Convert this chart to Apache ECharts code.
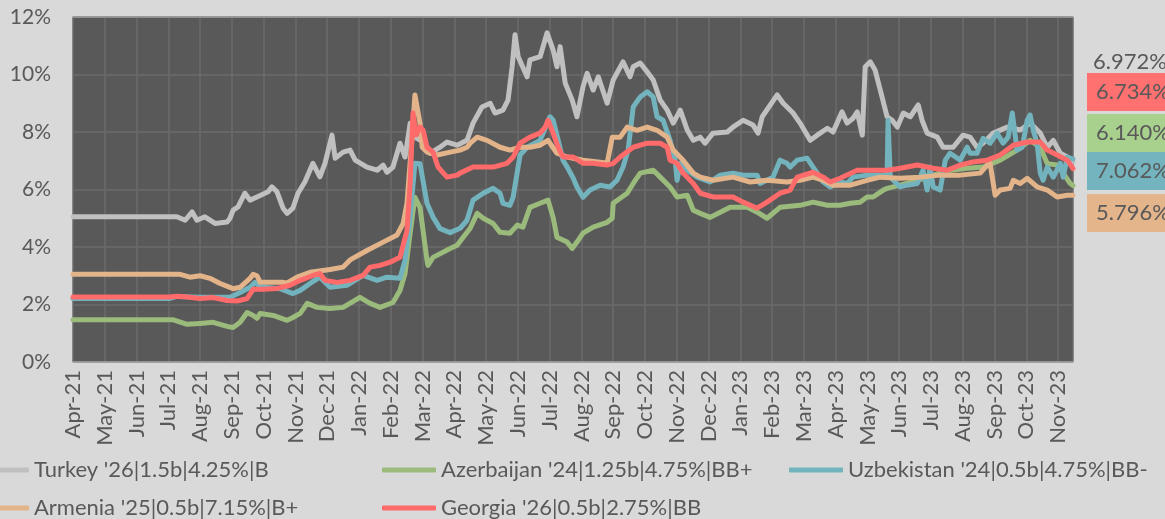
<!DOCTYPE html>
<html>
<head>
<meta charset="utf-8">
<title>Eurobond yields</title>
<script src="https://cdn.jsdelivr.net/npm/echarts@6/dist/echarts.min.js"></script>
<style>
  html, body { margin: 0; padding: 0; background: #d9d9d9; }
  #chart { width: 1165px; height: 519px; }
</style>
</head>
<body>
<div id="chart"></div>
<script>
/*** data ***/
// x = months since Apr-21 (0 = Apr-21, 31 = Nov-23), y = yield %
var months = ['Apr-21','May-21','Jun-21','Jul-21','Aug-21','Sep-21','Oct-21','Nov-21','Dec-21','Jan-22','Feb-22','Mar-22',
  'Apr-22','May-22','Jun-22','Jul-22','Aug-22','Sep-22','Oct-22','Nov-22','Dec-22','Jan-23','Feb-23','Mar-23',
  'Apr-23','May-23','Jun-23','Jul-23','Aug-23','Sep-23','Oct-23','Nov-23'];
var xEnd = 31.47;
var yTicks = [0, 2, 4, 6, 8, 10, 12];

var names = ["Turkey '26|1.5b|4.25%|B", "Azerbaijan '24|1.25b|4.75%|BB+", "Uzbekistan '24|0.5b|4.75%|BB-",
  "Armenia '25|0.5b|7.15%|B+", "Georgia '26|0.5b|2.75%|BB"];
var colors = ['#c0c0c0', '#9bbb7c', '#72b3bd', '#e3b38a', '#ff6b6b'];

var turkey = [[0,5.05],[3.27,5.05],[3.53,4.93],[3.75,5.22],[3.90,4.93],[4.15,5.05],[4.47,4.82],[4.85,4.87],[4.94,5.0],
  [5.04,5.28],[5.19,5.39],[5.41,5.87],[5.57,5.63],[5.79,5.74],[6.14,5.92],[6.26,6.09],[6.42,5.92],[6.61,5.35],[6.74,5.17],
  [6.92,5.35],[7.08,5.87],[7.30,6.27],[7.55,6.91],[7.77,6.44],[7.93,6.91],[8.15,7.89],[8.25,7.09],[8.50,7.3],[8.72,7.37],
  [8.88,7.02],[9.25,6.78],[9.57,6.67],[9.76,6.85],[9.88,6.6],[10.07,6.78],[10.29,7.61],[10.45,7.13],[10.61,8.3],[10.80,7.8],
  [11.08,7.61],[11.24,7.26],[11.55,7.47],[11.77,7.65],[12.09,7.54],[12.40,7.71],[12.59,8.31],[12.87,8.87],[13.13,9.0],
  [13.28,8.66],[13.53,8.76],[13.69,9.11],[13.82,10.27],[13.91,11.38],[14.01,10.62],[14.29,9.92],[14.38,10.51],[14.70,10.62],
  [14.92,11.45],[15.11,10.85],[15.23,10.27],[15.33,10.97],[15.49,9.7],[15.71,9.11],[15.86,8.53],[16.05,9.57],[16.18,10.04],
  [16.37,9.46],[16.53,9.92],[16.81,9.0],[17.00,9.81],[17.31,10.44],[17.53,9.92],[17.63,10.27],[17.85,10.4],[18.07,10.09],
  [18.26,9.81],[18.48,9.11],[18.70,8.76],[18.89,8.31],[19.11,8.76],[19.33,8.07],[19.52,7.71],[19.74,7.82],[19.89,7.61],
  [20.14,7.96],[20.59,8.0],[20.77,8.17],[21.09,8.41],[21.40,8.24],[21.56,7.96],[21.69,8.53],[22.16,9.29],[22.35,9.0],
  [22.66,8.66],[22.88,8.31],[23.20,7.71],[23.42,7.89],[23.74,8.13],[23.92,8.0],[24.20,8.7],[24.36,8.31],[24.55,8.48],
  [24.68,8.7],[24.84,7.89],[24.93,10.27],[25.09,10.44],[25.24,10.16],[25.46,9.22],[25.62,8.53],[25.78,8.41],[25.94,8.17],
  [26.13,8.66],[26.35,8.53],[26.60,8.94],[26.72,8.41],[26.88,7.96],[27.20,7.82],[27.38,7.47],[27.70,7.47],[28.01,7.89],
  [28.23,7.82],[28.45,7.47],[28.64,7.61],[28.96,7.96],[29.40,8.17],[29.81,8.07],[30.12,8.31],[30.44,7.96],[30.66,7.47],
  [30.85,7.71],[31.07,7.26],[31.29,7.13],[31.47,6.97]];

var azerbaijan = [[0,1.47],[3.14,1.47],[3.59,1.31],[4.0,1.34],[4.41,1.38],[4.85,1.24],[5.04,1.2],[5.26,1.38],[5.48,1.72],
  [5.67,1.62],[5.79,1.52],[5.89,1.69],[6.30,1.62],[6.74,1.45],[6.92,1.55],[7.15,1.69],[7.37,2.04],[7.68,1.9],[8.09,1.86],
  [8.50,1.9],[9.03,2.25],[9.35,2.04],[9.66,1.9],[10.07,2.07],[10.29,2.49],[10.45,3.08],[10.61,4.48],[10.76,5.73],
  [10.92,5.38],[11.14,3.54],[11.17,3.36],[11.33,3.64],[11.87,3.95],[12.09,4.06],[12.28,4.34],[12.50,4.65],[12.72,5.17],
  [12.91,5.0],[13.22,4.82],[13.44,4.51],[13.75,4.48],[13.98,4.76],[14.16,4.69],[14.38,5.38],[14.70,5.52],[14.95,5.63],
  [15.11,5.03],[15.23,4.34],[15.55,4.17],[15.71,3.95],[15.86,4.17],[16.05,4.48],[16.37,4.69],[16.81,4.86],[16.97,5.0],
  [17.00,5.52],[17.44,5.87],[17.63,6.21],[17.85,6.57],[18.26,6.67],[18.48,6.43],[18.79,6.09],[19.01,5.74],[19.33,5.8],
  [19.52,5.28],[19.74,5.17],[20.05,5.03],[20.37,5.21],[20.68,5.38],[21.22,5.38],[21.53,5.21],[21.84,5.0],[22.25,5.38],
  [22.88,5.45],[23.29,5.56],[23.74,5.45],[24.14,5.45],[24.46,5.52],[24.77,5.56],[24.99,5.74],[25.18,5.74],[25.50,5.98],
  [25.62,6.04],[26.03,6.15],[26.57,6.32],[27.07,6.5],[27.60,6.67],[28.14,6.74],[28.64,6.78],[29.18,7.02],[29.71,7.37],
  [30.12,7.71],[30.44,7.47],[30.66,6.9],[30.97,6.85],[31.16,6.57],[31.38,6.21],[31.47,6.14]];

var uzbekistan = [[0,2.21],[3.05,2.21],[3.27,2.28],[4.0,2.25],[4.94,2.25],[5.26,2.42],[5.57,2.6],[5.73,2.77],[5.89,2.62],
  [6.52,2.55],[6.92,2.38],[7.15,2.49],[7.55,2.8],[7.77,2.95],[8.09,2.6],[8.62,2.67],[9.13,3.01],[9.57,2.84],[9.88,2.95],
  [10.29,2.91],[10.45,3.54],[10.61,5.04],[10.76,6.91],[10.92,6.9],[11.14,5.52],[11.33,5.04],[11.55,4.64],[11.87,4.5],
  [12.18,4.65],[12.40,4.93],[12.59,5.63],[12.91,5.87],[13.22,6.04],[13.44,5.87],[13.53,5.52],[13.75,5.45],[13.85,5.73],
  [14.07,7.2],[14.29,7.47],[14.70,7.71],[15.01,8.53],[15.11,8.41],[15.27,7.71],[15.42,7.02],[15.55,6.78],[15.74,6.4],
  [15.86,6.09],[16.05,5.73],[16.27,5.98],[16.59,6.15],[16.90,6.09],[17.12,6.32],[17.31,6.78],[17.47,7.37],[17.63,8.87],
  [17.85,9.22],[18.07,9.4],[18.26,9.22],[18.38,8.53],[18.57,8.41],[18.79,7.71],[18.95,7.02],[19.01,6.32],[19.11,6.91],
  [19.33,6.67],[19.64,6.43],[20.05,6.26],[20.37,6.5],[20.77,6.57],[21.09,6.5],[21.53,6.5],[21.62,6.21],[22.03,6.43],
  [22.25,7.02],[22.47,6.91],[22.57,6.78],[22.79,7.02],[23.10,7.09],[23.29,6.78],[23.61,6.26],[23.83,6.09],[24.14,6.26],
  [24.36,6.21],[24.55,6.43],[24.99,6.5],[25.62,6.5],[25.65,8.41],[25.72,6.43],[26.03,6.09],[26.25,6.15],[26.57,6.21],
  [26.75,6.67],[26.88,5.98],[26.97,6.78],[27.07,6.09],[27.29,5.98],[27.45,7.02],[27.60,7.26],[27.92,7.02],[28.14,7.47],
  [28.23,7.26],[28.45,7.26],[28.64,7.78],[28.86,7.61],[29.08,7.96],[29.27,7.61],[29.43,7.82],[29.56,8.66],[29.71,7.37],
  [29.87,7.47],[30.03,8.41],[30.12,8.59],[30.22,8.06],[30.34,7.61],[30.44,6.57],[30.53,6.32],[30.66,6.78],[30.85,6.43],
  [31.07,6.91],[31.16,6.43],[31.29,7.13],[31.47,7.06]];

var armenia = [[0,3.05],[3.37,3.05],[3.68,2.95],[4.0,3.0],[4.31,2.91],[4.63,2.73],[5.04,2.55],[5.26,2.6],[5.57,2.91],
  [5.67,3.05],[5.79,3.0],[5.89,2.77],[6.61,2.77],[6.74,2.75],[7.05,2.95],[7.46,3.12],[8.09,3.22],[8.50,3.3],[8.72,3.55],
  [9.25,3.88],[9.76,4.17],[10.20,4.42],[10.39,4.82],[10.51,5.52],[10.67,7.8],[10.76,9.29],[10.92,8.31],[10.99,7.47],
  [11.14,7.3],[11.46,7.2],[11.87,7.3],[12.18,7.37],[12.40,7.47],[12.50,7.61],[12.72,7.82],[13.03,7.71],[13.44,7.47],
  [13.75,7.37],[14.07,7.47],[14.38,7.47],[14.70,7.54],[14.95,7.71],[15.23,7.26],[15.55,7.13],[16.05,7.02],[16.59,6.95],
  [16.81,6.91],[16.97,7.82],[17.22,7.82],[17.44,8.17],[17.75,8.06],[18.07,8.17],[18.38,8.06],[18.70,7.82],[18.89,7.37],
  [19.20,7.02],[19.52,6.57],[19.74,6.43],[20.14,6.32],[20.77,6.43],[21.31,6.26],[21.84,6.32],[22.47,6.26],[22.88,6.32],
  [23.29,6.43],[23.61,6.32],[23.92,6.15],[24.46,6.15],[24.99,6.32],[25.40,6.43],[26.03,6.39],[26.66,6.43],[27.29,6.5],
  [27.92,6.5],[28.55,6.57],[28.77,6.85],[28.86,6.91],[29.02,5.8],[29.18,5.98],[29.49,6.04],[29.59,6.32],[29.81,6.21],
  [30.03,6.39],[30.34,6.09],[30.66,5.98],[30.97,5.74],[31.29,5.8],[31.47,5.8]];

var georgia = [[0,2.26],[3.05,2.26],[3.27,2.29],[3.59,2.26],[4.0,2.21],[4.41,2.24],[4.85,2.14],[5.16,2.12],[5.48,2.21],
  [5.67,2.53],[5.98,2.53],[6.42,2.56],[6.83,2.67],[7.15,2.84],[7.55,3.01],[7.77,3.08],[7.93,2.84],[8.31,2.77],[8.72,2.84],
  [9.13,3.01],[9.35,3.3],[9.66,3.36],[9.98,3.47],[10.29,3.64],[10.51,4.58],[10.61,6.2],[10.70,8.66],[10.80,7.9],
  [10.92,8.17],[11.02,8.06],[11.14,7.47],[11.33,7.3],[11.49,6.78],[11.77,6.43],[12.09,6.5],[12.18,6.57],[12.59,6.78],
  [12.81,6.78],[13.22,6.78],[13.66,6.91],[13.85,7.13],[14.07,7.61],[14.38,7.82],[14.70,7.96],[14.86,8.17],[14.95,8.41],
  [15.11,7.96],[15.27,7.47],[15.42,7.13],[15.74,7.13],[16.05,6.91],[16.37,6.91],[16.81,6.85],[17.00,6.91],[17.22,7.13],
  [17.63,7.47],[18.07,7.61],[18.48,7.61],[18.70,7.47],[18.79,7.02],[19.01,6.91],[19.20,6.57],[19.52,6.21],[19.74,5.87],
  [20.14,5.74],[20.77,5.74],[21.09,5.56],[21.53,5.35],[21.84,5.56],[22.25,5.87],[22.57,5.98],[22.79,6.43],[23.29,6.6],
  [23.61,6.43],[23.83,6.26],[24.14,6.39],[24.68,6.67],[25.18,6.67],[25.62,6.67],[26.03,6.74],[26.57,6.85],[27.07,6.74],
  [27.51,6.67],[27.92,6.85],[28.33,6.96],[28.77,7.02],[29.18,7.2],[29.59,7.54],[30.03,7.65],[30.44,7.65],[30.66,7.37],
  [30.97,7.2],[31.29,7.02],[31.44,6.78],[31.47,6.73]];

// last values shown on the right (Turkey has no box)
var lastLabels = ['6.972%', '6.734%', '6.140%', '7.062%', '5.796%'];
var lastColors = ['none', '#ff7070', '#a9d18e', '#73b4be', '#e4b48b'];
var lastTop = [43, 73, 114, 152, 194];

/*** chart ***/
var seriesData = [turkey, azerbaijan, uzbekistan, armenia, georgia];
var font = 'Lato, "Open Sans", sans-serif';
var textColor = '#595959';

var series = [];
for (var i = 0; i < names.length; i++) {
  series.push({
    name: names[i],
    type: 'line',
    data: seriesData[i],
    showSymbol: false,
    symbol: 'none',
    lineStyle: { color: colors[i], width: 5, cap: 'round', join: 'round' },
    itemStyle: { color: colors[i] },
    z: 2 + i
  });
}

var graphics = [];
for (var k = 0; k < lastLabels.length; k++) {
  if (lastColors[k] !== 'none') {
    graphics.push({
      type: 'rect', left: 1087, top: lastTop[k],
      shape: { width: 90, height: 38 },
      style: { fill: lastColors[k] }
    });
  }
  graphics.push({
    type: 'text', left: k === 0 ? 1093 : 1096, top: lastTop[k] + 8,
    style: { text: lastLabels[k], fill: textColor, font: '22px ' + font }
  });
}

// excel-like legend: one legend per item so they sit in columns
var legendLeft = [-30, 377, 784, -30, 377];
var legendTop = [453, 453, 453, 491, 491];
var legends = [];
for (var j = 0; j < names.length; j++) {
  legends.push({
    left: legendLeft[j], top: legendTop[j],
    itemWidth: 54, itemHeight: 5, itemGap: 0,
    icon: 'roundRect',
    data: [names[j]],
    textStyle: { color: textColor, fontSize: 22, fontFamily: font, lineHeight: 24 }
  });
}

var myChart = echarts.init(document.getElementById('chart'), null, { renderer: 'canvas' });
var option = {
  backgroundColor: '#d9d9d9',
  animation: false,
  grid: { left: 73, right: 92, top: 17, bottom: 157, show: true, backgroundColor: '#595959', borderWidth: 0 },
  xAxis: [{
    type: 'value', min: 0, max: xEnd, interval: 1,
    axisLine: { show: true, lineStyle: { color: '#a6a6a6', width: 1.5 } },
    axisTick: { show: false },
    splitLine: { show: true, lineStyle: { color: '#6b6b6b', width: 1.5 } },
    axisLabel: {
      rotate: 90, margin: 8, color: textColor, fontSize: 22, fontFamily: font,
      showMaxLabel: false,
      formatter: function (v) {
        var r = Math.round(v);
        return (Math.abs(v - r) < 1e-6 && months[r]) ? months[r] : '';
      }
    }
  }, {
    type: 'value', min: 0, max: xEnd, position: 'top',
    axisLine: { show: true, lineStyle: { color: '#a0a0a0', width: 1.5 } },
    axisTick: { show: false }, axisLabel: { show: false }, splitLine: { show: false }
  }],
  yAxis: {
    type: 'value', min: yTicks[0], max: yTicks[yTicks.length - 1], interval: 2,
    axisLine: { show: false }, axisTick: { show: false },
    splitLine: { lineStyle: { color: '#6b6b6b', width: 1.5 } },
    axisLabel: { margin: 22, color: textColor, fontSize: 21, fontFamily: font, formatter: '{value}%' }
  },
  legend: legends,
  graphic: graphics,
  series: series
};
myChart.setOption(option);
</script>
</body>
</html>
